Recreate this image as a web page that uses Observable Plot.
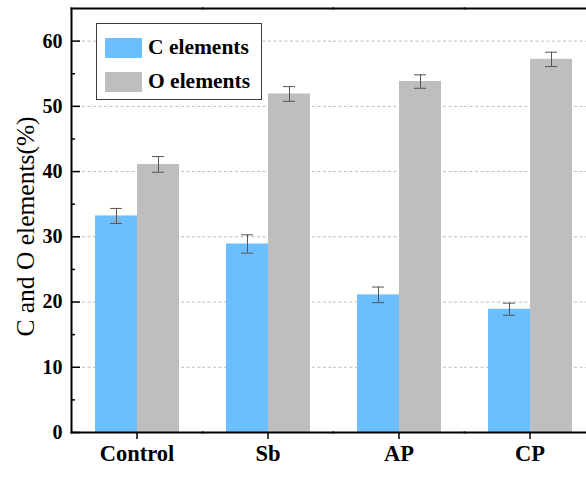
<!DOCTYPE html>
<html>
<head>
<meta charset="utf-8">
<script src="https://cdn.jsdelivr.net/npm/d3@7"></script>
<script src="https://cdn.jsdelivr.net/npm/@observablehq/plot@0.6"></script>
<style>
  html, body { margin: 0; padding: 0; background: #fff; overflow: hidden; }
  #wrap { position: relative; width: 586px; height: 477px; overflow: hidden; }
  #legend { position: absolute; left: 96px; top: 23px; width: 166px; height: 77px; box-sizing: border-box;
            border: 1px solid #3a3a3a; background: #fff; font-family: "Liberation Serif", "Times New Roman", serif;
            font-weight: bold; font-size: 21.5px; color: #000; }
  .row { position: absolute; left: 8px; display: flex; align-items: center; white-space: nowrap; }
  .sw { width: 37px; height: 20px; margin-right: 6px; }
</style>
</head>
<body>
<div id="wrap"><div id="legend"></div></div>
<script>
const groups = ["Control", "Sb", "AP", "CP"];
const series = ["C elements", "O elements"];
const colors = ["#6cbfff", "#bebebe"];
const cValues = [33.2, 28.9, 21.1, 18.9];
const oValues = [41.1, 51.9, 53.8, 57.2];
const cErrors = [1.15, 1.4, 1.2, 0.93];
const oErrors = [1.2, 1.13, 1.03, 1.1];
const yMajorTicks = [0, 10, 20, 30, 40, 50, 60];
const yMinorTicks = [5, 15, 25, 35, 45, 55];
const yTitle = "C and O elements(%)";

const data = [];
groups.forEach((g, i) => {
  data.push({group: g, series: series[0], value: cValues[i], err: cErrors[i]});
  data.push({group: g, series: series[1], value: oValues[i], err: oErrors[i]});
});

const font = `"Liberation Serif", "Times New Roman", serif`;

const plot = Plot.plot({
  width: 600,
  height: 477,
  marginLeft: 71,
  marginRight: 5,
  marginTop: 8,
  marginBottom: 45,
  style: {fontFamily: font, maxWidth: "none", background: "#fff", color: "#000"},
  fx: {domain: groups, paddingInner: 0, paddingOuter: 0},
  x: {domain: series, paddingInner: 0, paddingOuter: 0.5595, axis: null},
  y: {domain: [0, 65]},
  color: {domain: series, range: colors},
  marks: [
    Plot.ruleY(yMajorTicks.filter(d => d > 0), {stroke: "#bdbdbd", strokeWidth: 1, strokeDasharray: "3,2.5"}),
    Plot.barY(data, {fx: "group", x: "series", y: "value", fill: "series"}),
    Plot.ruleX(data, {fx: "group", x: "series", y1: d => d.value - d.err, y2: d => d.value + d.err, stroke: "#555", strokeWidth: 1}),
    Plot.tickY(data, {fx: "group", x: "series", y: d => d.value - d.err, stroke: "#555", strokeWidth: 1, insetLeft: 15, insetRight: 15}),
    Plot.tickY(data, {fx: "group", x: "series", y: d => d.value + d.err, stroke: "#555", strokeWidth: 1, insetLeft: 15, insetRight: 15}),
    Plot.axisY({ticks: yMajorTicks, tickSize: -9, tickPadding: 18, fontSize: 20, fontWeight: "bold", label: null, strokeWidth: 1.5}),
    Plot.axisY({ticks: yMinorTicks, tickSize: -4, tickFormat: null, text: null, label: null, strokeWidth: 1.5}),
    Plot.axisFx({anchor: "bottom", tickSize: 7, tickPadding: 6, fontSize: 22.5, fontWeight: "bold", label: null, strokeWidth: 1.5}),
    Plot.frame({anchor: "top", stroke: "#000", strokeWidth: 2}),
    Plot.frame({anchor: "bottom", stroke: "#000", strokeWidth: 2}),
    Plot.frame({anchor: "left", facetAnchor: "left", stroke: "#000", strokeWidth: 2}),
    Plot.text([yTitle], {text: d => d, frameAnchor: "left", facetAnchor: "left", dx: -46, dy: 6, rotate: -90,
      textAnchor: "middle", lineAnchor: "middle", fontSize: 25.5, fill: "#000"})
  ]
});

document.getElementById("wrap").prepend(plot);

const color = plot.scale("color");
const legend = document.getElementById("legend");
series.forEach((s, i) => {
  const row = document.createElement("div");
  row.className = "row";
  row.style.top = (i === 0 ? 11 : 45) + "px";
  const sw = document.createElement("div");
  sw.className = "sw";
  sw.style.background = color.apply(s);
  const t = document.createElement("span");
  t.textContent = s;
  row.appendChild(sw);
  row.appendChild(t);
  legend.appendChild(row);
});
</script>
</body>
</html>
